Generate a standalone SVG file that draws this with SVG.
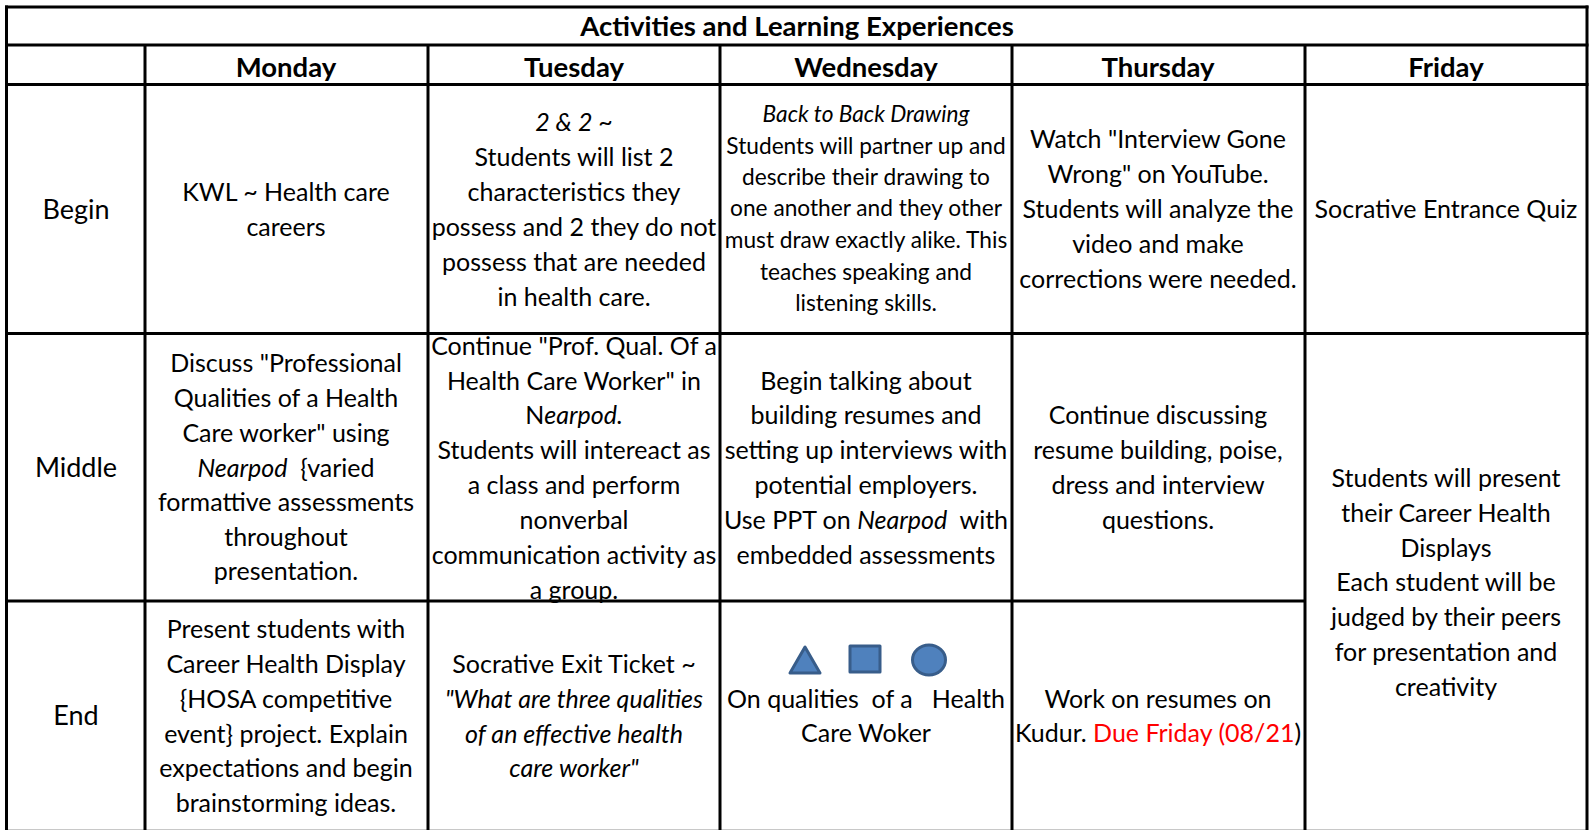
<svg xmlns="http://www.w3.org/2000/svg" width="1591" height="830" viewBox="0 0 1591 830">
<style>
text{font-family:Lato,"Open Sans","Liberation Sans",sans-serif;font-size:25px;fill:#000;text-anchor:middle;white-space:pre}
.b{font-weight:bold;font-size:27.5px}
.l{font-size:27px}
.s{font-size:22.7px}
.i{font-style:italic}
.r{fill:#ff0000}
.g line{stroke:#000;stroke-width:3}
.shape{fill:#4f81bd;stroke:#385d8a;stroke-width:3;stroke-linejoin:round}
</style>
<rect x="0" y="0" width="1591" height="830" fill="#fff"/>

<g id="title"><text class="b" x="797" y="36">Activities and Learning Experiences</text></g>
<g id="hdr-mon"><text class="b" x="286" y="77">Monday</text></g>
<g id="hdr-tue"><text class="b" x="574" y="77">Tuesday</text></g>
<g id="hdr-wed"><text class="b" x="866" y="77">Wednesday</text></g>
<g id="hdr-thu"><text class="b" x="1158" y="77">Thursday</text></g>
<g id="hdr-fri"><text class="b" x="1446" y="77">Friday</text></g>

<g id="lbl-begin"><text class="l" x="76" y="219">Begin</text></g>
<g id="lbl-middle"><text class="l" x="76" y="477">Middle</text></g>
<g id="lbl-end"><text class="l" x="76" y="725">End</text></g>

<g id="mon-begin"><text x="286" y="201">KWL ~ Health care</text><text x="286" y="236">careers</text></g>
<g id="tue-begin">
<text class="i" x="574" y="131">2 &amp; 2 ~</text>
<text x="574" y="166">Students will list 2</text>
<text x="574" y="201">characteristics they</text>
<text x="574" y="236">possess and 2 they do not</text>
<text x="574" y="271">possess that are needed</text>
<text x="574" y="306">in health care.</text>
</g>
<g id="wed-begin">
<text class="s i" x="866" y="122">Back to Back Drawing</text>
<text class="s" x="866" y="154">Students will partner up and</text>
<text class="s" x="866" y="185">describe their drawing to</text>
<text class="s" x="866" y="216">one another and they other</text>
<text class="s" x="866" y="248">must draw exactly alike. This</text>
<text class="s" x="866" y="280">teaches speaking and</text>
<text class="s" x="866" y="311">listening skills.</text>
</g>
<g id="thu-begin">
<text x="1158" y="148">Watch "Interview Gone</text>
<text x="1158" y="183">Wrong" on YouTube.</text>
<text x="1158" y="218">Students will analyze the</text>
<text x="1158" y="253">video and make</text>
<text x="1158" y="288">corrections were needed.</text>
</g>
<g id="fri-begin"><text x="1446" y="218">Socrative Entrance Quiz</text></g>

<g id="mon-middle">
<text x="286" y="372">Discuss "Professional</text>
<text x="286" y="407">Qualities of a Health</text>
<text x="286" y="442">Care worker" using</text>
<text x="286" y="477"><tspan class="i">Nearpod</tspan>  {varied</text>
<text x="286" y="511">formattive assessments</text>
<text x="286" y="546">throughout</text>
<text x="286" y="580">presentation.</text>
</g>
<g id="tue-middle">
<text x="574" y="355">Continue "Prof. Qual. Of a</text>
<text x="574" y="390">Health Care Worker" in</text>
<text x="574" y="424">N<tspan class="i">earpod.</tspan></text>
<text x="574" y="459">Students will intereact as</text>
<text x="574" y="494">a class and perform</text>
<text x="574" y="529">nonverbal</text>
<text x="574" y="564">communication activity as</text>
<text x="574" y="599">a group.</text>
</g>
<g id="wed-middle">
<text x="866" y="390">Begin talking about</text>
<text x="866" y="424">building resumes and</text>
<text x="866" y="459">setting up interviews with</text>
<text x="866" y="494">potential employers.</text>
<text x="866" y="529">Use PPT on <tspan class="i">Nearpod</tspan>  with</text>
<text x="866" y="564">embedded assessments</text>
</g>
<g id="thu-middle">
<text x="1158" y="424">Continue discussing</text>
<text x="1158" y="459">resume building, poise,</text>
<text x="1158" y="494">dress and interview</text>
<text x="1158" y="529">questions.</text>
</g>
<g id="fri-middle-end">
<text x="1446" y="487">Students will present</text>
<text x="1446" y="522">their Career Health</text>
<text x="1446" y="557">Displays</text>
<text x="1446" y="591">Each student will be</text>
<text x="1446" y="626">judged by their peers</text>
<text x="1446" y="661">for presentation and</text>
<text x="1446" y="696">creativity</text>
</g>

<g id="mon-end">
<text x="286" y="638">Present students with</text>
<text x="286" y="673">Career Health Display</text>
<text x="286" y="708">{HOSA competitive</text>
<text x="286" y="743">event} project. Explain</text>
<text x="286" y="777">expectations and begin</text>
<text x="286" y="812">brainstorming ideas.</text>
</g>
<g id="tue-end">
<text x="574" y="673">Socrative Exit Ticket ~</text>
<text class="i" x="574" y="708">"What are three qualities</text>
<text class="i" x="574" y="743">of an effective health</text>
<text class="i" x="574" y="777">care worker"</text>
</g>
<g id="wed-end">
<path class="shape" d="M805 647 L790 673 L820 673 Z"/>
<rect class="shape" x="850" y="646" width="30" height="26"/>
<ellipse class="shape" cx="929" cy="660" rx="16.5" ry="15"/>
<text x="866" y="708">On qualities  of a   Health</text>
<text x="866" y="742">Care Woker</text>
</g>
<g id="thu-end">
<text x="1158" y="708">Work on resumes on</text>
<text x="1158" y="742">Kudur. <tspan class="r">Due Friday (08/21</tspan>)</text>
</g>

<g id="grid" class="g">
<line x1="6" y1="829.5" x2="1587" y2="829.5" style="stroke:#c8c8c8;stroke-width:1"/>
<line x1="5" y1="7" x2="1588.5" y2="7"/>
<line x1="5" y1="45" x2="1588.5" y2="45"/>
<line x1="5" y1="84.5" x2="1588.5" y2="84.5"/>
<line x1="5" y1="333.5" x2="1588.5" y2="333.5"/>
<line x1="5" y1="601" x2="1305" y2="601"/>
<line x1="6.5" y1="5.5" x2="6.5" y2="830"/>
<line x1="1587" y1="5.5" x2="1587" y2="830"/>
<line x1="145" y1="45" x2="145" y2="830"/>
<line x1="428" y1="45" x2="428" y2="830"/>
<line x1="720" y1="45" x2="720" y2="830"/>
<line x1="1012" y1="45" x2="1012" y2="830"/>
<line x1="1305" y1="45" x2="1305" y2="830"/>
</g>
</svg>
